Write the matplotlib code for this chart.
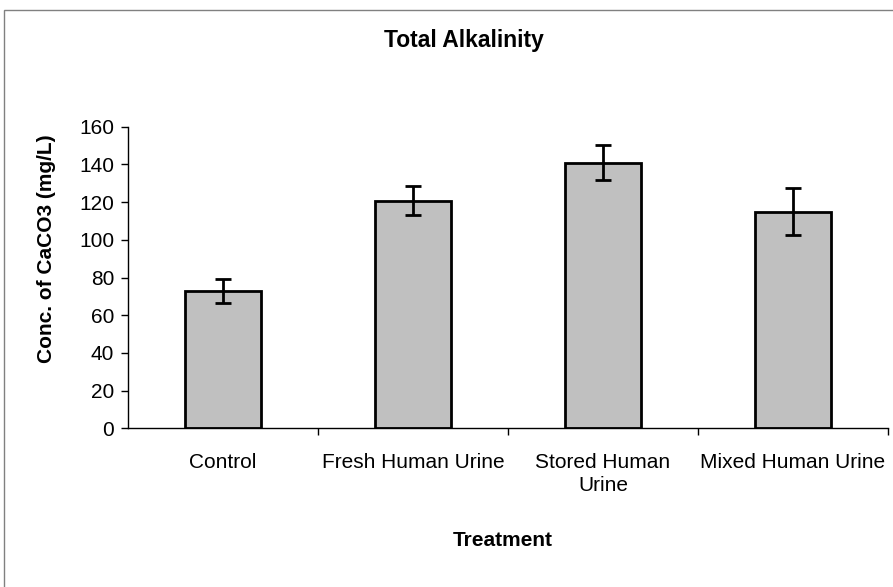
import numpy as np
import matplotlib
matplotlib.use('Agg')
import matplotlib.pyplot as plt
from matplotlib.patches import Rectangle

plt.rcParams['font.family'] = ['Liberation Sans', 'DejaVu Sans']

# data
treatments = ['Control', 'Fresh Human Urine', 'Stored Human\nUrine', 'Mixed Human Urine']
alkalinity = [72.8, 120.7, 141.0, 115.0]
errors = [6.2, 7.7, 9.3, 12.7]
y_ticks = [0, 20, 40, 60, 80, 100, 120, 140, 160]

W, H = 893, 587
fig = plt.figure(figsize=(W / 100, H / 100), dpi=100)
# chart-area frame (only top and left edges fall inside the picture)
fig.patches.append(Rectangle((4 / W, -0.01), 1.0, 1 - 10 / H + 0.01, transform=fig.transFigure,
                             fill=False, edgecolor='#808080', linewidth=1.0))

ax = fig.add_axes([128 / W, 1 - 428.3 / H, 760 / W, 301.6 / H])
x = np.arange(len(treatments))
ax.bar(x, alkalinity, width=0.4, color='#C0C0C0', edgecolor='black', linewidth=2, zorder=2)
ax.errorbar(x, alkalinity, yerr=errors, fmt='none', ecolor='black', elinewidth=2,
            capsize=6, capthick=2, zorder=3)

ax.set_xlim(-0.5, len(treatments) - 0.5)
ax.set_ylim(0, 160)
ax.set_yticks(y_ticks)
ax.set_xticks(x)
ax.set_xticklabels(treatments, fontsize=15, linespacing=1.25)
ax.tick_params(axis='x', length=0, pad=18)
ax.set_xticks(np.arange(len(treatments)) + 0.5, minor=True)
ax.tick_params(axis='x', which='minor', length=5, width=1, direction='out')
ax.tick_params(axis='y', labelsize=15, length=5, width=1, direction='out', pad=5)

for side in ['top', 'right']:
    ax.spines[side].set_visible(False)
for side in ['left', 'bottom']:
    ax.spines[side].set_linewidth(1)

fig.text(47 / W, 1 - 249 / H, 'Conc. of CaCO3 (mg/L)', rotation=90, ha='center', va='center',
         fontsize=15, fontweight='bold')
fig.text(503 / W, 1 - 540 / H, 'Treatment', ha='center', va='center',
         fontsize=15, fontweight='bold')
fig.text(464 / W, 1 - 40 / H, 'Total Alkalinity', ha='center', va='center',
         fontsize=16.5, fontweight='bold')

fig.savefig('out.png', dpi=100)
